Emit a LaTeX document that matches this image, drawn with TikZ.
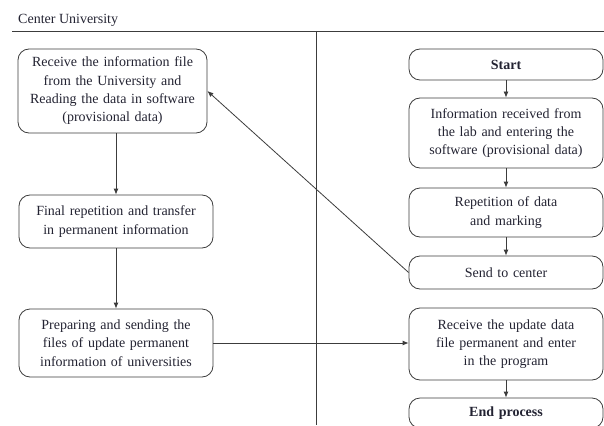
\documentclass[tikz,border=0pt]{standalone}
\usepackage{fontspec}
\setmainfont{Liberation Serif}
\usetikzlibrary{arrows.meta,calc}
\definecolor{txt}{RGB}{35,35,50}
\definecolor{ln}{RGB}{60,60,60}
\begin{document}
\begin{tikzpicture}[x=1pt,y=-1pt,
  box/.style={draw=ln,line width=0.8pt,rounded corners=11pt,align=center,inner sep=2pt,
    text=txt,font=\fontsize{14}{18.3}\selectfont},
  arr/.style={draw=ln,line width=0.8pt,-{Latex[length=6pt,width=5pt]}}]
\useasboundingbox (0,0) rectangle (604,425);
\node[anchor=west,text=txt,font=\fontsize{14}{16}\selectfont,inner sep=0pt] (title) at (18,20) {Center University};
\draw[ln,line width=0.8pt] (12,31) -- (604,31);
\draw[ln,line width=0.8pt] (316,31) -- (316,425);
% left column
\node[box,minimum width=189pt,minimum height=84pt,text width=185pt] (b1) at (112.5,91)
  {Receive the information file\\from the University and\\Reading the data in software\\(provisional data)};
\node[box,minimum width=194pt,minimum height=53pt,text width=190pt] (b2) at (116,221.5)
  {Final repetition and transfer\\in permanent information};
\node[box,minimum width=194pt,minimum height=68pt,text width=190pt] (b3) at (116,343)
  {Preparing and sending the\\files of update permanent\\information of universities};
% right column
\node[box,minimum width=194pt,minimum height=31pt,text width=190pt] (start) at (506,64.5)
  {\bfseries Start};
\node[box,minimum width=194pt,minimum height=70pt,text width=190pt] (info) at (506,133)
  {Information received from\\the lab and entering the\\software (provisional data)};
\node[box,minimum width=194pt,minimum height=49pt,text width=190pt] (rep) at (506,212.5)
  {Repetition of data\\and marking};
\node[box,minimum width=194pt,minimum height=33pt,text width=190pt] (send) at (506,272.5)
  {Send to center};
\node[box,minimum width=194pt,minimum height=72pt,text width=190pt] (recv) at (506,344)
  {Receive the update data\\file permanent and enter\\in the program};
\node[box,minimum width=194pt,minimum height=30pt,text width=190pt] (endp) at (506,413)
  {\bfseries End process};
% connectors
\draw[arr] (b1.south -| b2.north) -- (b2.north);
\draw[arr] (b2) -- (b3);
\draw[arr] (b3.east) -- (b3.east -| recv.west);
\draw[arr] (send.west) -- (b1.east);
\draw[arr] (start) -- (info);
\draw[arr] (info) -- (rep);
\draw[arr] (rep) -- (send);
\draw[arr] (recv) -- (endp);
\end{tikzpicture}
\end{document}
